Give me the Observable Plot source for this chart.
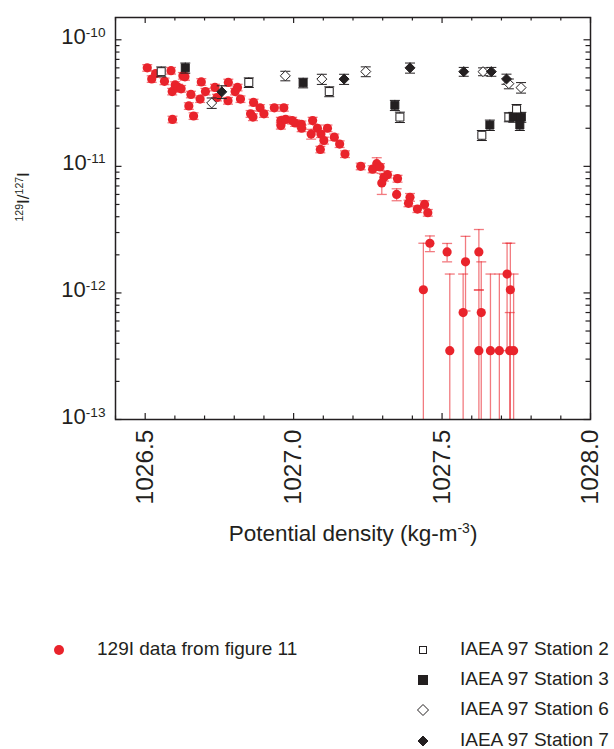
<!DOCTYPE html>
<html><head><meta charset="utf-8">
<script src="https://cdn.jsdelivr.net/npm/d3@7"></script>
<script src="https://cdn.jsdelivr.net/npm/@observablehq/plot@0.6"></script>
<style>
body{margin:0;background:#fff;font-family:"Liberation Sans",Arial,Helvetica,sans-serif;color:#231f20}
#wrap{position:relative;width:614px;height:749px;overflow:hidden}
.legsym{position:absolute}
.legtxt{position:absolute;font-size:19px;line-height:22px;white-space:nowrap}
</style></head><body><div id="wrap"></div><script>
// ---------- data ----------
const xDomain = [1026.4, 1028.0];
const yDomain = [1e-13, 1.5e-10];
const xTickValues = [1026.5, 1027.0, 1027.5, 1028.0];
const yTickValues = [1e-13, 1e-12, 1e-11, 1e-10];

const redDensity = [1026.507,1026.522,1026.535,1026.565,1026.587,1026.591,1026.601,1026.611,1026.621,1026.627,
  1026.634,1026.647,1026.654,1026.592,1026.663,1026.685,1026.689,1026.703,1026.735,1026.742,
  1026.780,1026.779,1026.803,1026.811,1026.821,1026.865,1026.855,1026.863,1026.887,1026.900,
  1026.935,1026.967,1026.957,1026.957,1026.973,1026.995,1027.005,1027.026,1027.027,1027.064,
  1027.059,1027.080,1027.092,1027.114,1027.102,1027.137,1027.155,1027.090,1027.173,1027.226,
  1027.280,1027.266,1027.291,1027.316,1027.304,1027.297,1027.350,1027.347,1027.392,1027.387,
  1027.417,1027.441,1027.452,1027.437,1027.459,1027.517,1027.526,1027.571,1027.579,1027.624,
  1027.632,1027.624,1027.663,1027.693,1027.719,1027.730,1027.728,1027.741];
const redRatio = [6.0e-11,4.9e-11,5.4e-11,4.7e-11,5.7e-11,3.9e-11,4.4e-11,4.2e-11,4.1e-11,5.2e-11,
  5.1e-11,3.0e-11,3.7e-11,2.35e-11,2.5e-11,3.4e-11,4.65e-11,3.9e-11,4.2e-11,3.5e-11,
  4.6e-11,3.3e-11,3.9e-11,4.2e-11,3.4e-11,3.2e-11,2.6e-11,2.45e-11,2.9e-11,2.6e-11,
  2.9e-11,2.9e-11,2.3e-11,2.1e-11,2.35e-11,2.3e-11,2.2e-11,2.15e-11,2.0e-11,2.3e-11,
  1.8e-11,2.0e-11,1.8e-11,2.0e-11,1.6e-11,1.7e-11,1.5e-11,1.36e-11,1.25e-11,1.0e-11,
  1.05e-11,9.5e-12,9.9e-12,8.6e-12,8.15e-12,7.4e-12,8.0e-12,6.0e-12,5.7e-12,5.1e-12,
  4.6e-12,5.0e-12,4.3e-12,1.06e-12,2.47e-12,2.11e-12,3.5e-13,7.0e-13,1.76e-12,2.11e-12,
  7.0e-13,3.5e-13,3.5e-13,3.5e-13,1.41e-12,1.06e-12,3.5e-13,3.5e-13];
const redErr = [3.6e-12,2.9e-12,3.2e-12,2.8e-12,3.4e-12,2.3e-12,2.6e-12,2.5e-12,2.5e-12,3.1e-12,
  3.1e-12,1.8e-12,2.2e-12,1.4e-12,1.5e-12,2.0e-12,2.8e-12,2.3e-12,2.5e-12,2.1e-12,
  2.8e-12,2.0e-12,2.3e-12,2.5e-12,2.0e-12,1.9e-12,1.6e-12,1.5e-12,1.7e-12,1.6e-12,
  1.7e-12,1.7e-12,1.4e-12,1.3e-12,1.4e-12,1.4e-12,1.3e-12,1.3e-12,1.2e-12,1.4e-12,
  1.6e-12,1.2e-12,1.1e-12,1.2e-12,1.0e-12,1.0e-12,0.9e-12,0.8e-12,0.75e-12,0.6e-12,
  1.2e-12,0.6e-12,0.6e-12,0.5e-12,0.5e-12,1.4e-12,0.5e-12,0.65e-12,0.4e-12,0.3e-12,
  0.28e-12,0.35e-12,0.26e-12,1.41e-12,0.35e-12,0.35e-12,1.06e-12,0.71e-12,1.04e-12,1.06e-12,
  1.06e-12,0.71e-12,1.06e-12,1.06e-12,1.06e-12,1.41e-12,0.35e-12,1.06e-12];

const st2Density = [1026.554,1026.849,1027.120,1027.358,1027.634,1027.725,1027.751];
const st2Ratio   = [5.6e-11,4.6e-11,3.9e-11,2.45e-11,1.76e-11,2.45e-11,2.83e-11];
const st2Err     = [0.5e-11,0.4e-11,0.35e-11,0.23e-11,0.16e-11,0.2e-11,0.25e-11];

const st3Density = [1026.635,1027.032,1027.341,1027.661,1027.740,1027.767,1027.762];
const st3Ratio   = [6.0e-11,4.57e-11,3.04e-11,2.12e-11,2.45e-11,2.45e-11,2.12e-11];
const st3Err     = [0.55e-11,0.4e-11,0.28e-11,0.2e-11,0.22e-11,0.22e-11,0.2e-11];

const st6Density = [1026.724,1026.972,1027.095,1027.243,1027.638,1027.725,1027.766];
const st6Ratio   = [3.17e-11,5.19e-11,4.89e-11,5.61e-11,5.6e-11,4.5e-11,4.19e-11];
const st6Err     = [0.3e-11,0.45e-11,0.45e-11,0.5e-11,0.4e-11,0.4e-11,0.4e-11];

const st7Density = [1026.758,1027.170,1027.392,1027.573,1027.666,1027.717];
const st7Ratio   = [3.88e-11,4.89e-11,6.0e-11,5.6e-11,5.6e-11,4.9e-11];
const st7Err     = [0.45e-11,0.45e-11,0.55e-11,0.45e-11,0.45e-11,0.45e-11];

const redLabel = "129I data from figure 11";
const stationLabels = ["IAEA 97 Station 2","IAEA 97 Station 3","IAEA 97 Station 6","IAEA 97 Station 7"];
const xTitle = "Potential density (kg-m^{-3})";
const yTitle = "^{129}I/^{127}I";

// ---------- build tables ----------
const RED = "#e9232b", INK = "#231f20";
const red = redDensity.map((x,i)=>({x, y: redRatio[i], e: redErr[i]}));
const stationDefs = [
  {label: stationLabels[0], symbol: "square", fill: "white", d: st2Density, r: st2Ratio, e: st2Err},
  {label: stationLabels[1], symbol: "square", fill: INK,     d: st3Density, r: st3Ratio, e: st3Err},
  {label: stationLabels[2], symbol: "diamond2", fill: "white", d: st6Density, r: st6Ratio, e: st6Err},
  {label: stationLabels[3], symbol: "diamond2", fill: INK,   d: st7Density, r: st7Ratio, e: st7Err}
];
const stations = stationDefs.flatMap(s => s.d.map((x,i)=>({x, y: s.r[i], e: s.e[i], symbol: s.symbol, fill: s.fill})));

const lo = d => Math.max(d.y - d.e, yDomain[0]);
const hi = d => d.y + d.e;
const caps = rows => rows.flatMap(d => {
  const out = [{x: d.x, y: hi(d)}];
  if (d.y - d.e > yDomain[0]) out.push({x: d.x, y: d.y - d.e});
  return out;
});
const capSymbol = {draw(ctx, size){ const w = Math.sqrt(size/Math.PI); ctx.moveTo(-w,0); ctx.lineTo(w,0); }};

const W = 614, H = 560, mT = 17, mB = 141, mL = 115, mR = 24;
const innerW = W - mL - mR, innerH = H - mT - mB;
const xMinor = d3.range(0, 17).map(i => +(xDomain[0] + i*0.1).toFixed(1));
const yMinor = [];
for (let e = -13; e <= -11; e++) for (let m = 1; m <= 9; m++) yMinor.push(m * Math.pow(10, e));
yMinor.push(1e-10);
const yMajorSet = new Set(yTickValues);

const plot = Plot.plot({
  width: W, height: H,
  marginTop: mT, marginBottom: mB, marginLeft: mL, marginRight: mR,
  style: {fontFamily: '"Liberation Sans", Arial, Helvetica, sans-serif', fontSize: "22px", color: INK, background: "white", overflow: "visible"},
  x: {domain: xDomain},
  y: {type: "log", domain: yDomain},
  marks: [
    // red error bars
    Plot.ruleX(red, {x: "x", y1: lo, y2: hi, stroke: RED, strokeOpacity: 0.6, strokeWidth: 1.3}),
    Plot.dot(caps(red), {x: "x", y: "y", symbol: capSymbol, r: 5, stroke: RED, strokeOpacity: 0.6, strokeWidth: 1.3}),
    Plot.dot(red, {x: "x", y: "y", r: 4.6, fill: RED, stroke: "none"}),
    // station error bars
    Plot.ruleX(stations, {x: "x", y1: lo, y2: hi, stroke: INK, strokeWidth: 1}),
    Plot.dot(caps(stations), {x: "x", y: "y", symbol: capSymbol, r: 5, stroke: INK, strokeWidth: 1}),
    Plot.dot(stations, {x: "x", y: "y", symbol: "symbol", fill: "fill", stroke: INK, strokeWidth: 1, r: 4.5}),
    // inward ticks
    Plot.tickX(xMinor.filter(v => !xTickValues.includes(v)), {x: d => d, insetTop: innerH - 3.5, stroke: INK, strokeWidth: 1.2}),
    Plot.tickX(xMinor.filter(v => !xTickValues.includes(v)), {x: d => d, insetBottom: innerH - 3.5, stroke: INK, strokeWidth: 1.2}),
    Plot.tickX(xTickValues, {x: d => d, insetTop: innerH - 6, stroke: INK, strokeWidth: 1.2}),
    Plot.tickX(xTickValues, {x: d => d, insetBottom: innerH - 6, stroke: INK, strokeWidth: 1.2}),
    Plot.tickY(yMinor.filter(v => !yMajorSet.has(v)), {y: d => d, insetLeft: innerW - 4.5, stroke: INK, strokeWidth: 1.2}),
    Plot.tickY(yMinor.filter(v => !yMajorSet.has(v)), {y: d => d, insetRight: innerW - 4.5, stroke: INK, strokeWidth: 1.2}),
    Plot.tickY(yTickValues, {y: d => d, insetLeft: innerW - 6.5, stroke: INK, strokeWidth: 1.2}),
    Plot.tickY(yTickValues, {y: d => d, insetRight: innerW - 6.5, stroke: INK, strokeWidth: 1.2}),
    Plot.frame({stroke: INK, strokeWidth: 1.5}),
    // axes (labels only)
    Plot.axisX({ticks: xTickValues, tickSize: 0, tickPadding: 10, tickRotate: -90, tickFormat: d => d.toFixed(1), fontSize: 24.5, label: null, fill: INK}),
    Plot.axisY({ticks: yTickValues, tickSize: 0, tickPadding: 10, tickFormat: d => "10^{" + Math.round(Math.log10(d)) + "}", fontSize: 22, label: null, fill: INK, dy: -3}),
    // titles
    Plot.text([xTitle], {text: d => d, frameAnchor: "bottom", dy: 121, fontSize: 22.5, fill: INK}),
    Plot.text([yTitle], {text: d => d, frameAnchor: "left", dx: -92, dy: 3, rotate: -90, fontSize: 17, fill: INK})
  ]
});

// superscripts
function supify(root){
  root.querySelectorAll("text").forEach(t => {
    const nodes = t.querySelectorAll("tspan").length ? [...t.querySelectorAll("tspan")] : [t];
    nodes.forEach(n => {
      const s = n.textContent; if (!s.includes("^{")) return;
      while (n.firstChild) n.removeChild(n.firstChild);
      const re = /\^\{([^}]*)\}/g; let last = 0, m;
      while ((m = re.exec(s))) {
        if (m.index > last) n.appendChild(document.createTextNode(s.slice(last, m.index)));
        const sp = document.createElementNS("http://www.w3.org/2000/svg", "tspan");
        sp.setAttribute("baseline-shift", "super");
        sp.setAttribute("font-size", "0.62em");
        sp.textContent = m[1];
        n.appendChild(sp);
        last = re.lastIndex;
      }
      if (last < s.length) n.appendChild(document.createTextNode(s.slice(last)));
    });
  });
}
supify(plot);
const wrap = document.getElementById("wrap");
plot.style.position = "absolute"; plot.style.left = "0"; plot.style.top = "0";
wrap.appendChild(plot);

// ---------- legend ----------
function legendSymbol(cx, cy, kind, fill){
  const s = 16;
  const svg = d3.create("svg").attr("class", "legsym").attr("width", s).attr("height", s)
    .style("left", (cx - s/2) + "px").style("top", (cy - s/2) + "px");
  const g = svg.append("g").attr("transform", `translate(${s/2},${s/2})`);
  if (kind === "dot") g.append("circle").attr("r", 5).attr("fill", RED);
  else if (kind === "square") {
    const a = fill === "white" ? 7 : 9;
    g.append("rect").attr("x", -a/2).attr("y", -a/2).attr("width", a).attr("height", a)
      .attr("fill", fill).attr("stroke", INK).attr("stroke-width", 1);
  } else {
    const r = fill === "white" ? 5.5 : 5;
    g.append("path").attr("d", `M0,${-r}L${r},0L0,${r}L${-r},0Z`).attr("fill", fill).attr("stroke", INK).attr("stroke-width", 1);
  }
  wrap.appendChild(svg.node());
}
function legendText(x, cy, txt){
  const div = document.createElement("div");
  div.className = "legtxt"; div.style.left = x + "px"; div.style.top = (cy - 11) + "px";
  div.textContent = txt; wrap.appendChild(div);
}
legendSymbol(59, 650, "dot");
legendText(97, 649, redLabel);
const rowsY = [649, 679, 709, 740];
stationDefs.forEach((s, i) => {
  legendSymbol(423, rowsY[i] + 1, s.symbol === "square" ? "square" : "diamond", s.fill);
  legendText(460, rowsY[i], s.label);
});
</script></body></html>
